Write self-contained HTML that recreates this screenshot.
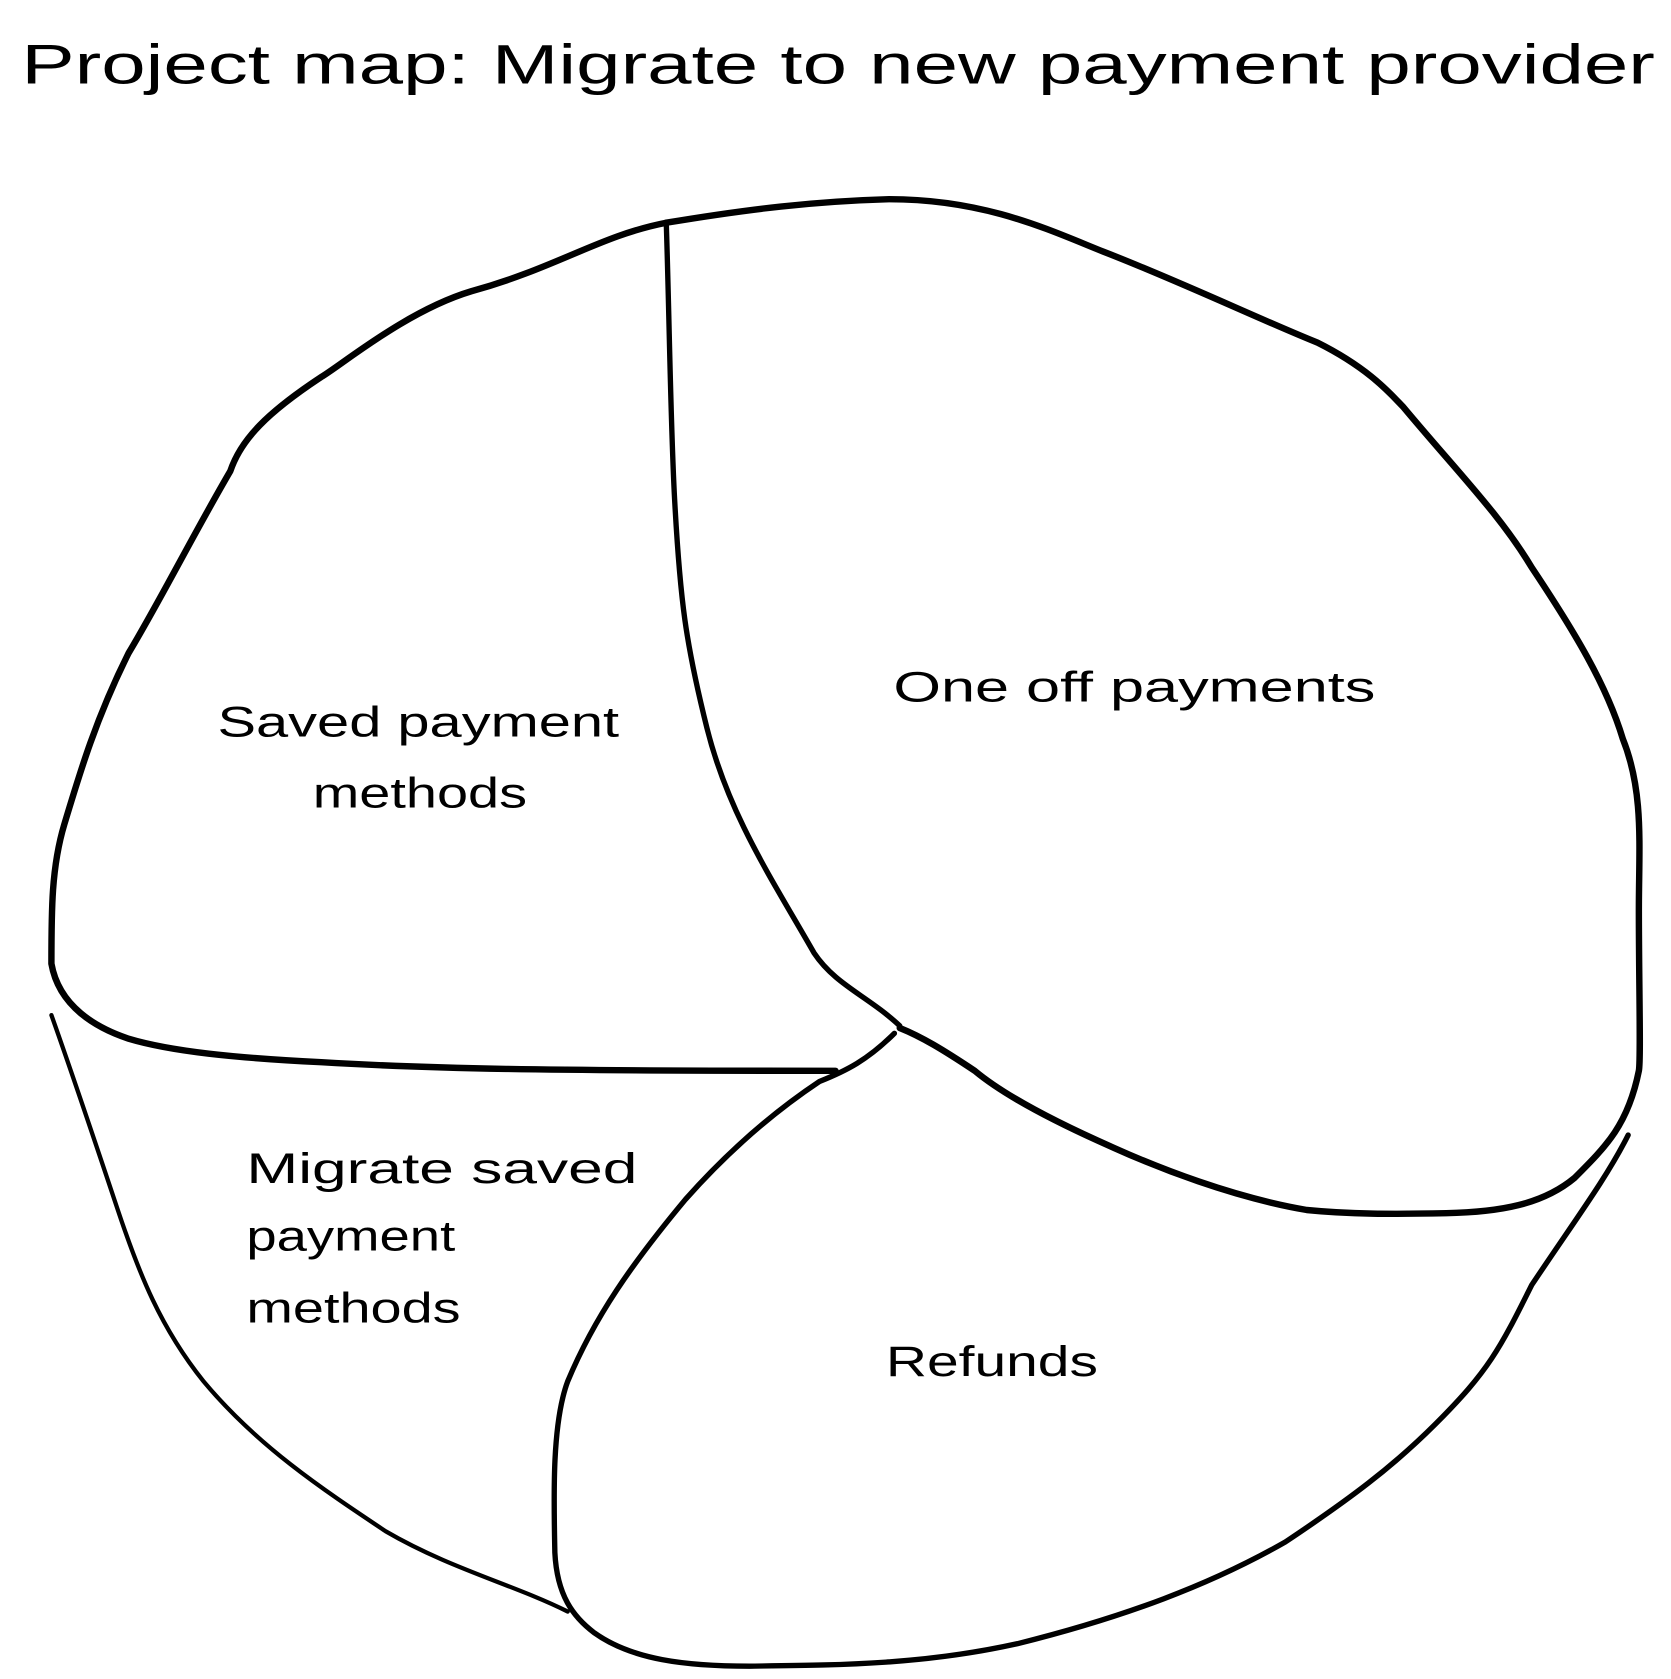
<!DOCTYPE html>
<html><head><meta charset="utf-8"><style>
html,body{margin:0;padding:0;background:#fff;}
svg{display:block;}
text{font-family:"Liberation Sans",sans-serif;fill:#000;}
</style></head><body>
<svg width="1671" height="1679" viewBox="0 0 1560 1568" preserveAspectRatio="none" xmlns="http://www.w3.org/2000/svg">
<g fill="none" stroke="#000" stroke-linecap="round" stroke-linejoin="round">
<path stroke-width="6" d="M622,208 C560,220 520,250 440,272 C380,290 320,340 300,352 C250,385 225,410 215,440 C180,500 150,560 120,610 C90,670 75,720 60,770 C48,810 48,850 48,900 C55,940 90,960 120,970 C160,982 220,988 300,992 C400,998 500,1000 780,1000"/>
<path stroke-width="5" d="M622,208 C625,300 626,400 630,470 C635,560 640,600 660,680 C680,760 720,820 760,890 C780,920 810,930 840,958"/>
<path stroke-width="6" d="M622,208 C700,195 760,188 830,186 C920,186 980,215 1030,235 C1100,262 1180,300 1230,320 C1280,345 1300,370 1310,380 C1360,440 1400,480 1430,530 C1470,590 1500,640 1515,690 C1535,740 1530,790 1530,850 C1530,920 1532,990 1530,1000 C1520,1050 1500,1070 1470,1100 C1440,1125 1400,1132 1350,1133 C1300,1134 1260,1134 1220,1130 C1150,1118 1080,1090 1040,1072 C990,1050 940,1025 910,1000 C880,980 860,968 840,960"/>
<path stroke-width="4" d="M48,948 C70,1010 90,1070 110,1130 C130,1190 150,1240 190,1290 C240,1350 300,1390 360,1430 C420,1465 480,1480 530,1505"/>
<path stroke-width="5" d="M835,965 C810,990 790,1000 765,1010 C720,1040 680,1075 640,1120 C590,1180 555,1230 530,1290 C515,1330 517,1400 518,1450 C520,1490 535,1510 555,1525 C590,1550 640,1556 700,1556 C780,1555 860,1555 950,1535 C1050,1510 1130,1480 1200,1440 C1260,1400 1300,1370 1340,1330 C1390,1280 1400,1260 1430,1200 C1470,1140 1500,1100 1520,1060"/>
</g>
<text x="20" y="78" font-size="52" textLength="1525" lengthAdjust="spacingAndGlyphs">Project map: Migrate to new payment provider</text>
<text x="203" y="688" font-size="40" textLength="375" lengthAdjust="spacingAndGlyphs">Saved payment</text>
<text x="292" y="754" font-size="40" textLength="200" lengthAdjust="spacingAndGlyphs">methods</text>
<text x="834" y="655" font-size="40" textLength="450" lengthAdjust="spacingAndGlyphs">One off payments</text>
<text x="230" y="1105" font-size="40" textLength="365" lengthAdjust="spacingAndGlyphs">Migrate saved</text>
<text x="230" y="1168" font-size="40" textLength="195" lengthAdjust="spacingAndGlyphs">payment</text>
<text x="230" y="1235" font-size="40" textLength="200" lengthAdjust="spacingAndGlyphs">methods</text>
<text x="827" y="1285" font-size="40" textLength="198" lengthAdjust="spacingAndGlyphs">Refunds</text>
</svg>
</body></html>
